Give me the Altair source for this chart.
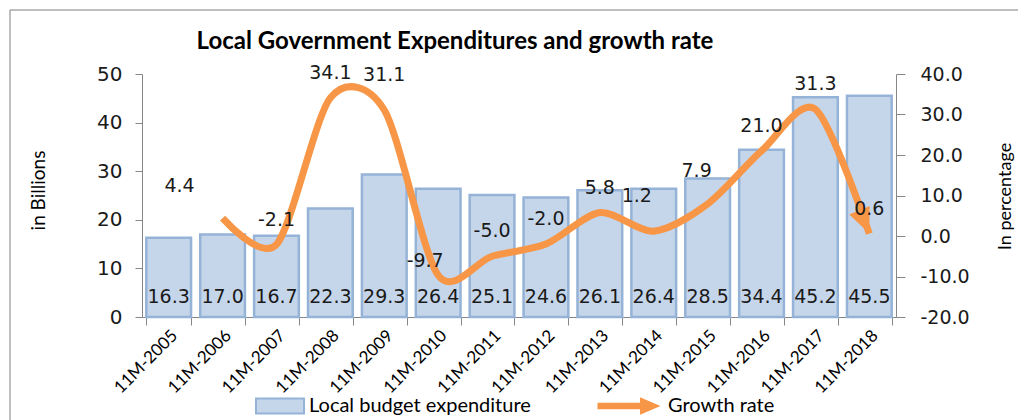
import altair as alt
import pandas as pd

years = ["11M-2005", "11M-2006", "11M-2007", "11M-2008", "11M-2009", "11M-2010", "11M-2011",
         "11M-2012", "11M-2013", "11M-2014", "11M-2015", "11M-2016", "11M-2017", "11M-2018"]
expenditure = [16.3, 17.0, 16.7, 22.3, 29.3, 26.4, 25.1, 24.6, 26.1, 26.4, 28.5, 34.4, 45.2, 45.5]
growth = [None, 4.4, -2.1, 34.1, 31.1, -9.7, -5.0, -2.0, 5.8, 1.2, 7.9, 21.0, 31.3, 0.6]
title_text = "Local Government Expenditures and growth rate"

df = pd.DataFrame({"year": years, "exp": expenditure, "growth": growth})

W, H = 754, 243
BAR_FILL = "#c6d6ea"
BAR_STROKE = "#95b3d7"
ORANGE = "#f79646"
AXIS_GRAY = "#868686"
NUM_FONT = "DejaVu Sans"
TXT_FONT = "Lato"
MINUS = "\u2212"

base = alt.Chart(df)

xenc = alt.X("year:N", sort=years,
             scale=alt.Scale(paddingInner=0.17, paddingOuter=0.08),
             axis=alt.Axis(title=None, labelAngle=-45, labelFont=TXT_FONT, labelFontSize=17,
                           labelColor="#000000", tickBand="extent", tickSize=8,
                           domainColor=AXIS_GRAY, tickColor=AXIS_GRAY, labelPadding=2))

left_axis = alt.Axis(title="in Billions", values=[0, 10, 20, 30, 40, 50], grid=False,
                     labelFont=NUM_FONT, labelFontSize=20, labelColor="#1a1a1a",
                     domainColor=AXIS_GRAY, tickColor=AXIS_GRAY, tickSize=7,
                     labelPadding=13, titleFont=TXT_FONT, titleFontSize=19,
                     titleFontWeight="normal", titleColor="#000000",
                     titleX=-104, titleY=116, titleAngle=270, titleAlign="center",
                     titleBaseline="middle")
lscale = alt.Scale(domain=[0, 50])

bars = base.mark_bar(stroke=BAR_STROKE, strokeWidth=2.5).transform_calculate(
    series="'Local budget expenditure'"
).encode(
    x=xenc,
    y=alt.Y("exp:Q", scale=lscale, axis=left_axis),
    fill=alt.Fill("series:N",
                  scale=alt.Scale(domain=["Local budget expenditure"], range=[BAR_FILL]),
                  legend=alt.Legend(orient="none", legendX=122, legendY=316, direction="horizontal",
                                    title=None, symbolType="M-1.6,-0.5H1.6V0.5H-1.6Z",
                                    symbolSize=900, symbolStrokeColor=BAR_STROKE,
                                    symbolStrokeWidth=2, labelFont=TXT_FONT, labelFontSize=20,
                                    labelColor="#000000", labelOffset=13, padding=0,
                                    labelLimit=400)),
)

bar_labels = base.transform_calculate(zero="0").mark_text(
    font=NUM_FONT, fontSize=19, color="#1a1a1a", baseline="middle", dy=-20
).encode(
    x=alt.X("year:N", sort=years),
    y=alt.Y("zero:Q", scale=lscale, axis=left_axis),
    text=alt.Text("exp:Q", format=".1f"),
)

left = alt.layer(bars, bar_labels)

right_axis = alt.Axis(title="In percentage", values=[-20, -10, 0, 10, 20, 30, 40],
                      labelExpr="replace(format(datum.value, '.1f'), '" + MINUS + "', '-')",
                      grid=False, orient="right", labelFont=NUM_FONT, labelFontSize=19,
                      labelColor="#1a1a1a", domainColor=AXIS_GRAY, tickColor=AXIS_GRAY,
                      tickSize=9, labelPadding=15, titleFont=TXT_FONT, titleFontSize=18,
                      titleFontWeight="normal", titleColor="#000000", titleX=109, titleY=122,
                      titleAngle=270, titleAlign="center", titleBaseline="middle")
rscale = alt.Scale(domain=[-20, 40])

gbase = base.transform_filter("isValid(datum.growth)").transform_calculate(
    glab="replace(format(datum.growth, '.1f'), '" + MINUS + "', '-')"
)

line = gbase.mark_line(strokeWidth=7, interpolate="cardinal", tension=0.15).transform_calculate(
    s2="'Growth rate'"
).encode(
    x=alt.X("year:N", sort=years),
    y=alt.Y("growth:Q", scale=rscale, axis=right_axis),
    stroke=alt.Stroke("s2:N", scale=alt.Scale(domain=["Growth rate"], range=[ORANGE]),
                      legend=alt.Legend(orient="none", legendX=471, legendY=316,
                                        direction="horizontal", title=None,
                                        symbolType="M-2,-0.2H0.7V-0.55L2,0L0.7,0.55V0.2H-2Z",
                                        symbolSize=992, symbolFillColor=ORANGE,
                                        symbolStrokeColor=ORANGE, symbolStrokeWidth=0,
                                        labelFont=TXT_FONT, labelFontSize=20,
                                        labelColor="#000000", labelOffset=23, padding=0,
                                        labelLimit=400)),
)

arrow = gbase.transform_filter(alt.datum.year == years[-1]).mark_point(
    shape="M0,0L-1,-2.3L1,-2.3Z", size=484, filled=True, color=ORANGE, opacity=1, angle=337
).encode(
    x=alt.X("year:N", sort=years),
    y=alt.Y("growth:Q", scale=rscale, axis=right_axis),
)

shifts = {"11M-2006": (-43, -32), "11M-2009": (0, -35), "11M-2010": (-13, -14),
          "11M-2014": (-17, -35), "11M-2015": (-11, -33)}


def glabel(dx, dy, filt):
    return gbase.transform_filter(filt).mark_text(
        font=NUM_FONT, fontSize=19, color="#1a1a1a", baseline="middle", dx=dx, dy=dy
    ).encode(
        x=alt.X("year:N", sort=years),
        y=alt.Y("growth:Q", scale=rscale, axis=right_axis),
        text=alt.Text("glab:N"),
    )


glayers = [glabel(0, -25, {"not": alt.FieldOneOfPredicate(field="year", oneOf=list(shifts))})]
for k, (dx, dy) in shifts.items():
    glayers.append(glabel(dx, dy, alt.datum.year == k))

right = alt.layer(line, arrow, *glayers)

deco = alt.Chart(pd.DataFrame({"t": [title_text]}))
title_mark = deco.mark_text(font=TXT_FONT, fontSize=24, fontWeight="bold", color="#000000",
                            baseline="middle", align="center").encode(
    x=alt.value(313), y=alt.value(-32), text="t:N")
frame_top = deco.mark_rule(color="#7f7f7f", strokeWidth=1).encode(
    x=alt.value(-132), x2=alt.value(1000), y=alt.value(-64))
frame_left = deco.mark_rule(color="#7f7f7f", strokeWidth=1).encode(
    x=alt.value(-132), y=alt.value(-64), y2=alt.value(400))

chart = alt.layer(left, right, title_mark, frame_top, frame_left).resolve_scale(
    y="independent", fill="independent", stroke="independent"
).properties(
    width=W, height=H,
    autosize=alt.AutoSizeParams(type="none"),
    padding={"left": 134, "top": 66, "right": 122, "bottom": 103},
).configure_view(stroke=None)

chart.save("out.html", embed_options={"renderer": "svg", "actions": False})
